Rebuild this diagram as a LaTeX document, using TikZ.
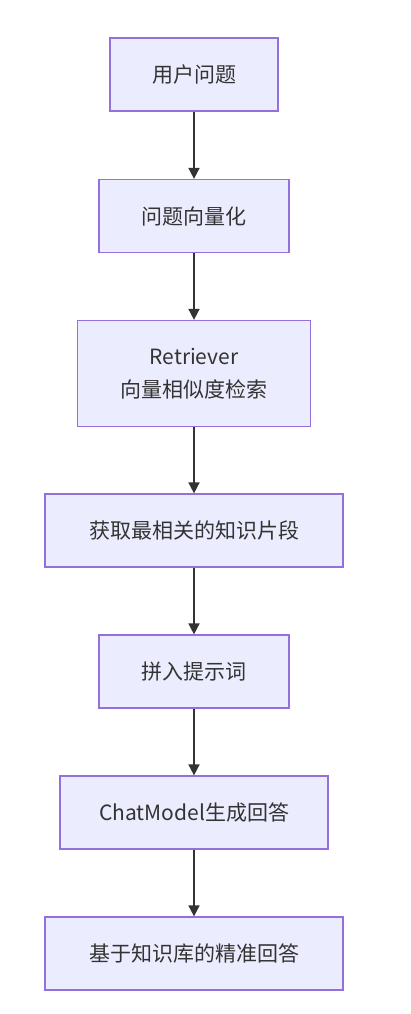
\documentclass[tikz,border=0pt]{standalone}
\usepackage{fontspec}
\setmainfont{Noto Sans CJK SC}
\usetikzlibrary{arrows.meta}
\definecolor{boxfill}{HTML}{ECECFF}
\definecolor{boxline}{HTML}{9370DB}
\definecolor{arrowc}{HTML}{333333}
\tikzset{
  flowbox/.style={draw=boxline, fill=boxfill, line width=1.2pt, inner sep=0pt,
    font=\fontsize{21pt}{33pt}\selectfont, text=arrowc, align=center},
  flowarrow/.style={draw=arrowc, line width=1.6pt, -{Triangle[length=11pt,width=11pt]}}
}
\begin{document}
\begin{tikzpicture}[x=1pt,y=-1pt]
\useasboundingbox (0,0) rectangle (410,1014);
\node[flowbox, minimum width=168pt, minimum height=73pt] (n1) at (194,74.5) {用户问题};
\node[flowbox, minimum width=190pt, minimum height=73pt] (n2) at (194,216) {问题向量化};
\node[flowbox, minimum width=233pt, minimum height=106pt] (n3) at (194,373.5) {Retriever\\向量相似度检索};
\node[flowbox, minimum width=298pt, minimum height=73pt] (n4) at (194,530.5) {获取最相关的知识片段};
\node[flowbox, minimum width=190pt, minimum height=73pt] (n5) at (194,671.5) {拼入提示词};
\node[flowbox, minimum width=268pt, minimum height=73pt] (n6) at (194,812.5) {ChatModel生成回答};
\node[flowbox, minimum width=298pt, minimum height=73pt] (n7) at (194,953.5) {基于知识库的精准回答};
\draw[flowarrow] (n1) -- (n2);
\draw[flowarrow] (n2) -- (n3);
\draw[flowarrow] (n3) -- (n4);
\draw[flowarrow] (n4) -- (n5);
\draw[flowarrow] (n5) -- (n6);
\draw[flowarrow] (n6) -- (n7);
\end{tikzpicture}
\end{document}
